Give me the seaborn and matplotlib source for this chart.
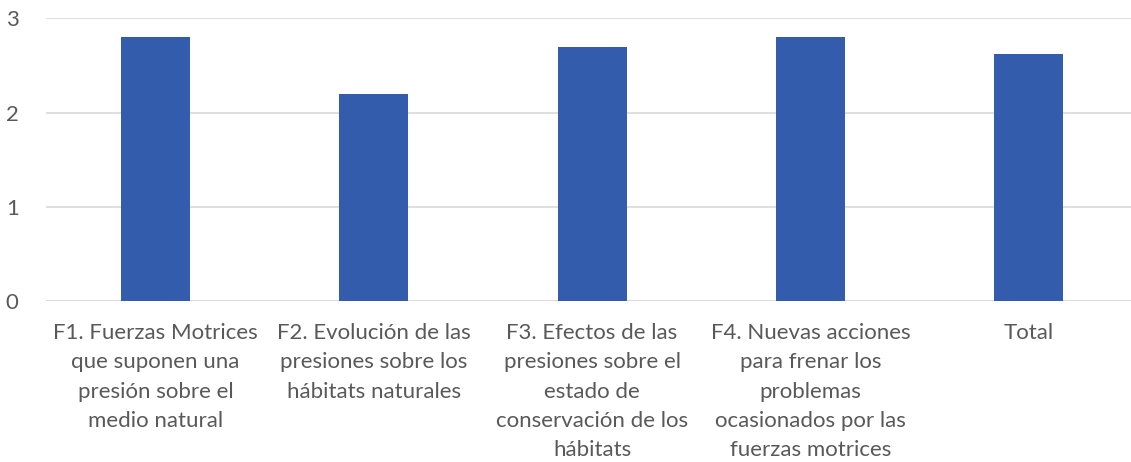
import matplotlib
matplotlib.use("Agg")
import matplotlib.pyplot as plt
import seaborn as sns
import pandas as pd

# datos
categorias = [
    "F1. Fuerzas Motrices\nque suponen una\npresión sobre el\nmedio natural",
    "F2. Evolución de las\npresiones sobre los\nhábitats naturales",
    "F3. Efectos de las\npresiones sobre el\nestado de\nconservación de los\nhábitats",
    "F4. Nuevas acciones\npara frenar los\nproblemas\nocasionados por las\nfuerzas motrices",
    "Total",
]
valores = [2.8, 2.2, 2.7, 2.8, 2.62]
yticks = [0, 1, 2, 3]

df = pd.DataFrame({"cat": categorias, "val": valores})

sns.set_style("white")
plt.rcParams["font.family"] = ["Lato", "DejaVu Sans"]

fig = plt.figure(figsize=(11.31, 4.62), dpi=100)
ax = fig.add_axes([0.041, 0.3485, 0.965, 0.6115])

sns.barplot(data=df, x="cat", y="val", color="#335CAD", saturation=1,
            width=0.316, linewidth=0, ax=ax)

ax.set_ylim(0, 3)
ax.set_xlim(-0.5, len(categorias) - 0.5)
ax.set_yticks(yticks)
ax.yaxis.grid(True, color="#D9D9D9", linewidth=1.2)
ax.set_axisbelow(True)
ax.set_xlabel("")
ax.set_ylabel("")
for s in ax.spines.values():
    s.set_visible(False)
ax.axhline(0, color="#D9D9D9", linewidth=1.2, zorder=0)
ax.tick_params(axis="both", length=0, labelsize=16, labelcolor="#595959")
ax.tick_params(axis="y", pad=20)
ax.tick_params(axis="x", pad=16)
for lab in ax.get_xticklabels():
    lab.set_linespacing(1.58)

fig.savefig("out.png", dpi=100)
